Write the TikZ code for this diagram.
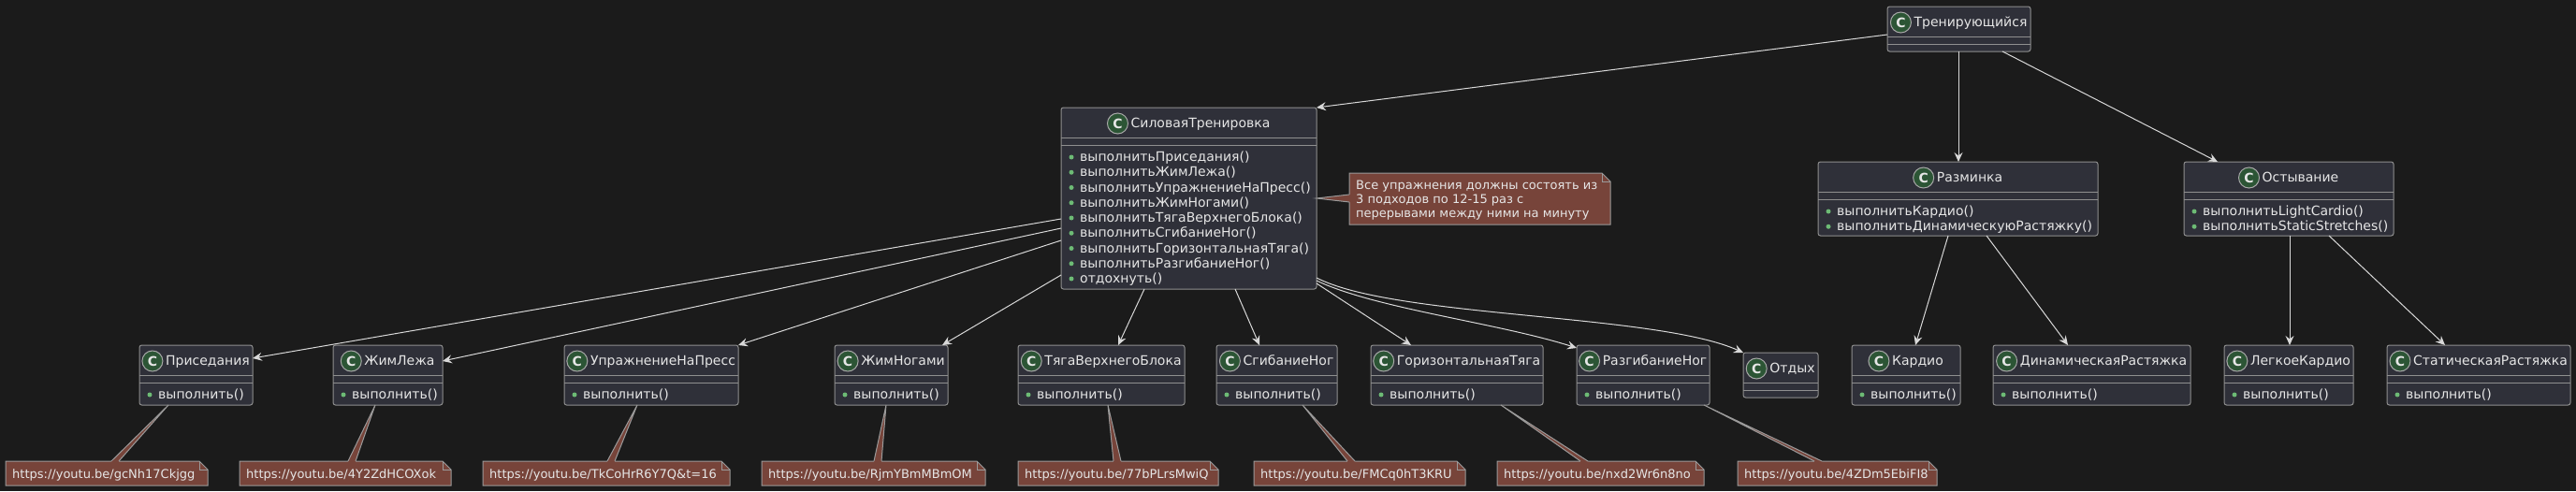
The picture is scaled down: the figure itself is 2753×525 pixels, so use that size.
\documentclass[tikz,border=0pt]{standalone}
\usepackage{fontspec}
\setmainfont{DejaVu Sans}
\usetikzlibrary{arrows.meta}
\definecolor{bgc}{HTML}{1B1B1B}
\definecolor{boxfill}{HTML}{2F3039}
\definecolor{boxline}{HTML}{8F8F8F}
\definecolor{txt}{HTML}{E6E6E6}
\definecolor{spotfill}{HTML}{2C5535}
\definecolor{spotline}{HTML}{A8A8A8}
\definecolor{bulletc}{HTML}{6DBB75}
\definecolor{notefill}{HTML}{77443A}
\definecolor{noteline}{HTML}{9A9A9A}
\definecolor{arrowc}{HTML}{D8D8D8}
\tikzset{
  clsbox/.style={rectangle, draw=boxline, fill=boxfill, line width=1pt, rounded corners=2.5pt, inner sep=0pt, outer sep=0pt},
  sepline/.style={draw=boxline, line width=1pt},
  hdrtext/.style={text=txt, font=\fontsize{14pt}{16pt}\selectfont, inner sep=0pt, anchor=base},
  spot/.style={circle, fill=spotfill, draw=spotline, line width=1pt, minimum size=22pt, inner sep=0pt, text=txt, font=\fontsize{14pt}{16pt}\selectfont\bfseries},
  memtext/.style={text=txt, font=\fontsize{14pt}{16pt}\selectfont, inner sep=0pt, anchor=base west},
  notetext/.style={text=txt, font=\fontsize{13pt}{15pt}\selectfont, inner sep=0pt, anchor=base west},
  notebody/.style={fill=notefill, draw=noteline, line width=1pt},
  noteedge/.style={draw=noteline, line width=1pt},
  conn/.style={draw=arrowc, line width=1pt, -{Stealth[length=10pt,width=9pt,inset=3.5pt]}},
}
% class box: id, left, top, right, bottom, label
\newcommand\klass[6]{%
  \node[clsbox, anchor=north west, minimum width={(#4)-(#2)}, minimum height={(#5)-(#3)}] (#1) at (#2,#3) {};
  \draw[sepline] ([yshift=-32pt]#1.north west) -- ([yshift=-32pt]#1.north east);
  \draw[sepline] ([yshift=-40pt]#1.north west) -- ([yshift=-40pt]#1.north east);
  \node[hdrtext] (#1-h) at ([yshift=-21.5pt]#1.north) {\hspace*{25pt}#6};
  \node[spot] (#1-c) at ([xshift=11pt,yshift=4.5pt]#1-h.base west) {C};
}
% member: id, index, text
\newcommand\mem[3]{%
  \fill[bulletc] ([xshift=11pt,yshift={-53pt-16.25pt*#2}]#1.north west) circle[radius=2.5pt];
  \node[memtext] (#1-m#2) at ([xshift=20pt,yshift={-57.5pt-16.25pt*#2}]#1.north west) {#3};
}
% note: id, left, top, right, bottom
\newcommand\unote[5]{%
  \node[rectangle, inner sep=0pt, outer sep=0pt, anchor=north west, minimum width={(#4)-(#2)}, minimum height={(#5)-(#3)}] (#1) at (#2,#3) {};
  \filldraw[notebody] (#1.north west) -- ([xshift=-9pt]#1.north east) -- ([yshift=-9pt]#1.north east) -- (#1.south east) -- (#1.south west) -- cycle;
  \draw[noteedge] ([xshift=-9pt]#1.north east) |- ([yshift=-9pt]#1.north east);
}
% wedge from class bottom to note top: class, apex shift, note, base shift
\newcommand\notewedge[4]{%
  \fill[notefill] ([xshift=#2pt]#1.south west) -- ([xshift={#4pt-4pt}]#3.north west) -- ([xshift={#4pt-4pt},yshift=-1.2pt]#3.north west) -- ([xshift={#4pt+4pt},yshift=-1.2pt]#3.north west) -- ([xshift={#4pt+4pt}]#3.north west) -- cycle;
  \draw[noteedge] ([xshift={#4pt-4pt}]#3.north west) -- ([xshift=#2pt]#1.south west) -- ([xshift={#4pt+4pt}]#3.north west);
}
\begin{document}
\begin{tikzpicture}[x=1pt,y=-1pt]
\useasboundingbox (0,0) rectangle (2753,525);
\fill[bgc] (0,0) rectangle (2753,525);

% top classes
\klass{trn}{2017}{7}{2170}{55}{Тренирующийся}
\klass{sil}{1134}{115}{1407}{309}{СиловаяТренировка}
\mem{sil}{0}{выполнитьПриседания()}
\mem{sil}{1}{выполнитьЖимЛежа()}
\mem{sil}{2}{выполнитьУпражнениеНаПресс()}
\mem{sil}{3}{выполнитьЖимНогами()}
\mem{sil}{4}{выполнитьТягаВерхнегоБлока()}
\mem{sil}{5}{выполнитьСгибаниеНог()}
\mem{sil}{6}{выполнитьГоризонтальнаяТяга()}
\mem{sil}{7}{выполнитьРазгибаниеНог()}
\mem{sil}{8}{отдохнуть()}
\klass{razm}{1943}{173}{2242}{252}{Разминка}
\mem{razm}{0}{выполнитьКардио()}
\mem{razm}{1}{выполнитьДинамическуюРастяжку()}
\klass{ost}{2334}{173}{2558}{252}{Остывание}
\mem{ost}{0}{выполнитьLightCardio()}
\mem{ost}{1}{выполнитьStaticStretches()}

% bottom row
\klass{pris}{149}{369}{270}{433}{Приседания}
\mem{pris}{0}{выполнить()}
\klass{zhim}{356}{369}{473}{433}{ЖимЛежа}
\mem{zhim}{0}{выполнить()}
\klass{press}{603}{369}{789}{433}{УпражнениеНаПресс}
\mem{press}{0}{выполнить()}
\klass{nogi}{892}{369}{1013}{433}{ЖимНогами}
\mem{nogi}{0}{выполнить()}
\klass{tyaga}{1088}{369}{1266}{433}{ТягаВерхнегоБлока}
\mem{tyaga}{0}{выполнить()}
\klass{sgib}{1300}{369}{1429}{433}{СгибаниеНог}
\mem{sgib}{0}{выполнить()}
\klass{goriz}{1465}{369}{1649}{433}{ГоризонтальнаяТяга}
\mem{goriz}{0}{выполнить()}
\klass{razg}{1685}{369}{1827}{433}{РазгибаниеНог}
\mem{razg}{0}{выполнить()}
\klass{otdyh}{1863}{377}{1943}{425}{Отдых}
\klass{kardio}{1979}{369}{2095}{433}{Кардио}
\mem{kardio}{0}{выполнить()}
\klass{dinam}{2130}{369}{2341}{433}{ДинамическаяРастяжка}
\mem{dinam}{0}{выполнить()}
\klass{legk}{2377}{369}{2515}{433}{ЛегкоеКардио}
\mem{legk}{0}{выполнить()}
\klass{stat}{2551}{369}{2747}{433}{СтатическаяРастяжка}
\mem{stat}{0}{выполнить()}

% big note
\unote{nbig}{1442}{185}{1721}{240}
\node[notetext] (nbig-t1) at ([xshift=7pt,yshift=-17pt]nbig.north west) {Все упражнения должны состоять из};
\node[notetext] (nbig-t2) at ([xshift=7pt,yshift=-32pt]nbig.north west) {3 подходов по 12-15 раз с};
\node[notetext] (nbig-t3) at ([xshift=7pt,yshift=-47pt]nbig.north west) {перерывами между ними на минуту};
\fill[notefill] ([yshift=-97pt]sil.north east) -- ([yshift=-23pt]nbig.north west) -- ([xshift=1.2pt,yshift=-23pt]nbig.north west) -- ([xshift=1.2pt,yshift=-31pt]nbig.north west) -- ([yshift=-31pt]nbig.north west) -- cycle;
\draw[noteedge] ([yshift=-23pt]nbig.north west) -- ([yshift=-97pt]sil.north east) -- ([yshift=-31pt]nbig.north west);

% bottom notes
\unote{n1}{6}{493}{222}{519}
\node[notetext] (n1-t) at ([xshift=7pt,yshift=-18pt]n1.north west) {https://youtu.be/gcNh17Ckjgg};
\notewedge{pris}{31}{n1}{117}
\unote{n2}{256}{493}{482}{519}
\node[notetext] (n2-t) at ([xshift=7pt,yshift=-18pt]n2.north west) {https://youtu.be/4Y2ZdHCOXok};
\notewedge{zhim}{45}{n2}{120}
\unote{n3}{516}{493}{780}{519}
\node[notetext] (n3-t) at ([xshift=7pt,yshift=-18pt]n3.north west) {https://youtu.be/TkCoHrR6Y7Q\&t=16};
\notewedge{press}{78}{n3}{137}
\unote{n4}{814}{493}{1053}{519}
\node[notetext] (n4-t) at ([xshift=7pt,yshift=-18pt]n4.north west) {https://youtu.be/RjmYBmMBmOM};
\notewedge{nogi}{55}{n4}{124}
\unote{n5}{1088}{493}{1302}{519}
\node[notetext] (n5-t) at ([xshift=7pt,yshift=-18pt]n5.north west) {https://youtu.be/77bPLrsMwiQ};
\notewedge{tyaga}{96}{n5}{106}
\unote{n6}{1340}{493}{1566}{519}
\node[notetext] (n6-t) at ([xshift=7pt,yshift=-18pt]n6.north west) {https://youtu.be/FMCq0hT3KRU};
\notewedge{sgib}{92}{n6}{104}
\unote{n7}{1600}{493}{1821}{519}
\node[notetext] (n7-t) at ([xshift=7pt,yshift=-18pt]n7.north west) {https://youtu.be/nxd2Wr6n8no};
\notewedge{goriz}{139}{n7}{93}
\unote{n8}{1857}{493}{2070}{519}
\node[notetext] (n8-t) at ([xshift=7pt,yshift=-18pt]n8.north west) {https://youtu.be/4ZDm5EbiFI8};
\notewedge{razg}{136}{n8}{86}

% connectors
\draw[conn] ([yshift=-30pt]trn.north west) -- (sil.north east);
\draw[conn] ([xshift=76pt]trn.south west) -- ([xshift=150pt]razm.north west);
\draw[conn] ([xshift=123pt]trn.south west) -- ([xshift=36pt]ost.north west);
\draw[conn] ([yshift=-119pt]sil.north west) -- ([yshift=-14pt]pris.north east);
\draw[conn] ([yshift=-129pt]sil.north west) -- ([yshift=-17pt]zhim.north east);
\draw[conn] ([yshift=-142pt]sil.north west) -- (press.north east);
\draw[conn] ([yshift=-179pt]sil.north west) -- ([xshift=-6pt]nogi.north east);
\draw[conn] ([xshift=89pt]sil.south west) -- ([xshift=107pt]tyaga.north west);
\draw[conn] ([xshift=186pt]sil.south west) -- ([xshift=46pt]sgib.north west);
\draw[conn] ([yshift=6pt]sil.south east) -- ([xshift=43pt]goriz.north west);
\draw[conn] ([yshift=9pt]sil.south east) .. controls (1470,330) and (1600,345) .. ([yshift=-3pt]razg.north west);
\draw[conn] ([yshift=12pt]sil.south east) .. controls (1490,340) and (1770,335) .. (otdyh.north west);
\draw[conn] ([xshift=139pt]razm.south west) -- ([xshift=68pt]kardio.north west);
\draw[conn] ([xshift=180pt]razm.south west) -- ([xshift=80pt]dinam.north west);
\draw[conn] ([xshift=113pt]ost.south west) -- ([xshift=70pt]legk.north west);
\draw[conn] ([xshift=155pt]ost.south west) -- ([xshift=62pt]stat.north west);
\end{tikzpicture}
\end{document}
